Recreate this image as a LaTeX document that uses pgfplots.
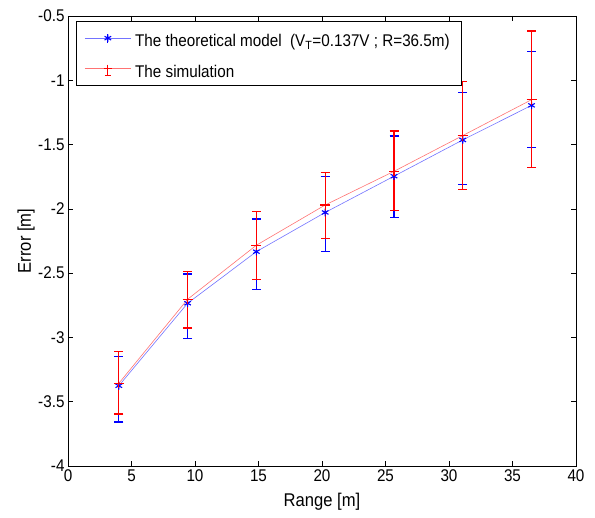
\documentclass[border=0pt]{standalone}
\usepackage{pgfplots}
\pgfplotsset{compat=1.18}
\usepackage{pgfplotstable}
\usepackage{fontspec}
\setmainfont[FakeStretch=0.9]{Liberation Sans}

% theoretical model: value, error above (ep), error below (em)
\pgfplotstableread{
x      y       ep     em
4.00   -3.376  0.229  0.282
9.42   -2.734  0.228  0.275
14.83  -2.333  0.254  0.295
20.25  -2.028  0.282  0.305
25.67  -1.746  0.313  0.323
31.08  -1.464  0.368  0.344
36.50  -1.195  0.416  0.326
}\theory

% simulation: value, error above (ep), error below (em)
\pgfplotstableread{
x      y       ep     em
4.00   -3.357  0.248  0.239
9.42   -2.703  0.218  0.223
14.83  -2.283  0.264  0.265
20.25  -1.970  0.255  0.263
25.67  -1.708  0.313  0.302
31.08  -1.430  0.422  0.419
36.50  -1.151  0.534  0.526
}\simul

\begin{document}
\begin{tikzpicture}
\useasboundingbox (-68bp,-52bp) rectangle (527bp,466bp);
\begin{axis}[
  scale only axis,
  width=508bp, height=450bp,
  xmin=0, xmax=40, ymin=-4, ymax=-0.5,
  xtick={0,5,...,40},
  ytick={-4,-3.5,...,-0.5},
  tick align=inside,
  major tick length=5bp,
  axis line style={line width=0.8bp},
  every tick/.style={black, line width=0.7bp},
  /pgf/number format/assume math mode=true,
  ticklabel style={font=\fontsize{17}{19}\selectfont},
  xlabel={Range [m]},
  ylabel={Error [m]},
  label style={font=\fontsize{18.5}{21}\selectfont},
  xlabel style={at={(axis description cs:0.5,-0.0793)}, anchor=center},
  ylabel style={at={(axis description cs:-0.0827,0.5)}, anchor=center},
  legend style={at={(0,1)}, anchor=north west, xshift=8bp, yshift=-5bp,
    draw=black, line width=1.1bp, font=\fontsize{17}{19}\selectfont,
    inner xsep=8bp, inner ysep=3bp, row sep=3.4bp,
    nodes={inner xsep=4bp, inner ysep=0bp, text height=22.2bp, text depth=5bp}},
  legend cell align=left,
]
\addplot[blue!55!white, line width=0.6bp,
  mark=asterisk, mark size=3.8bp, mark options={draw=blue, line width=1.1bp},
  legend image code/.code={
    \draw[blue!55!white, line width=0.6bp] (0bp,0bp) -- (46bp,0bp);
    \draw[blue, line width=1.2bp] (23bp,-5bp) -- (23bp,4bp);
    \draw[blue, line width=1.1bp] plot[mark=asterisk, mark size=3.8bp] coordinates {(23bp,0bp)};
  },
  error bars/.cd, y dir=both, y explicit,
  error bar style={draw=blue, line width=1.2bp},
  error mark options={rotate=90, mark size=4.5bp, line width=1.2bp, draw=blue},
  ]
  table[x=x, y=y, y error plus=ep, y error minus=em] {\theory};
\addlegendentry{The theoretical model\ \ (V\textsubscript{T}=0.137V ; R=36.5m)}
\addplot[red!55!white, line width=0.6bp,
  mark=+, mark size=5bp, mark options={draw=red, line width=1.1bp},
  legend image code/.code={
    \draw[red!55!white, line width=0.6bp] (0bp,0bp) -- (46bp,0bp);
    \draw[red, line width=1.2bp] (23bp,-7bp) -- (23bp,3bp);
    \draw[red, line width=1.2bp] (20bp,-7bp) -- (26bp,-7bp);
    \draw[red, line width=1.1bp] plot[mark=+, mark size=4bp] coordinates {(23bp,0bp)};
  },
  error bars/.cd, y dir=both, y explicit,
  error bar style={draw=red, line width=1.2bp},
  error mark options={rotate=90, mark size=4.5bp, line width=1.2bp, draw=red},
  ]
  table[x=x, y=y, y error plus=ep, y error minus=em] {\simul};
\addlegendentry{The simulation}
\end{axis}
\end{tikzpicture}
\end{document}
